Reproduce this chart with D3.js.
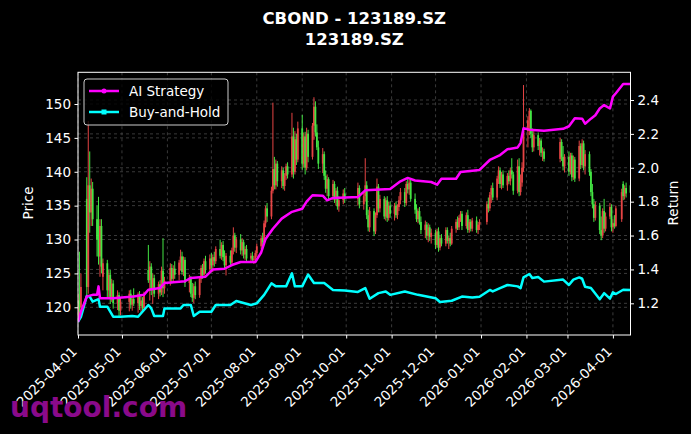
<!DOCTYPE html>
<html lang="en">
<head>
<meta charset="utf-8">
<title>CBOND - 123189.SZ</title>
<script src="https://d3js.org/d3.v7.min.js"></script>
<style>
  body { margin: 0; background: #000; }
  svg { display: block; font-family: "DejaVu Sans", sans-serif; }
  .axis path, .axis line { stroke: #fff; }
  .axis text { fill: #fff; font-size: 13.5px; font-family: "DejaVu Sans", sans-serif; }
  .grid line { stroke: #555; stroke-width: 0.7; stroke-dasharray: 3,3; }
</style>
</head>
<body>
<script>
// exchange holidays (no candles on these weekdays)
const holidays = ["2025-04-04","2025-05-01","2025-05-02","2025-05-05","2025-06-02",
  "2025-10-01","2025-10-02","2025-10-03","2025-10-06","2025-10-07","2025-10-08",
  "2026-01-01","2026-01-02","2026-02-16","2026-02-17","2026-02-18","2026-02-19",
  "2026-02-20","2026-02-23","2026-04-06"];
const firstDay = "2025-04-01";
const lastDay = "2026-04-13";

// daily candles [open, high, low, close]
const ohlc = [
  // 2025-04
  [118.5,122.0,117.8,121.0],[121.0,128.2,119.0,120.0],[120.0,125.0,118.5,123.0],
  [136.0,139.2,121.3,123.0],[123.0,147.5,122.0,138.0],[138.0,143.0,131.0,134.0],
  [134.0,139.0,132.0,137.5],[137.5,138.5,132.0,133.0],[133.0,135.0,127.5,130.0],
  [130.0,136.3,126.3,127.5],[127.5,133.0,124.5,132.0],[132.0,133.0,125.0,126.0],
  [124.5,127.2,122.5,126.5],[126.5,127.0,121.5,122.5],[122.5,125.5,121.5,124.8],
  [124.8,125.5,120.5,121.5],[121.5,124.2,120.8,123.5],[123.5,124.0,119.8,120.6],
  [120.6,122.5,119.6,121.8],[121.8,122.2,118.6,119.5],[119.5,121.5,118.8,120.8],
  // 2025-05
  [120.8,122.5,119.4,122.0],[122.0,122.6,119.8,120.4],[120.4,121.8,119.5,121.2],
  [121.2,122.8,120.2,120.6],[120.6,122.2,119.2,121.9],[121.9,122.4,119.6,120.2],
  [120.2,121.6,119.2,121.0],[121.0,121.5,119.4,119.9],[119.9,122.3,119.5,121.8],
  [125.5,129.2,123.6,124.0],[124.0,126.8,121.0,126.0],[126.0,126.5,121.8,122.5],
  [122.5,125.0,120.5,124.3],[124.3,124.8,121.5,122.0],[122.0,123.8,121.2,123.4],
  [123.4,124.0,121.6,122.2],[122.2,126.0,121.8,125.4],[125.4,130.2,121.5,122.8],
  [122.8,124.5,122.0,123.9],
  // 2025-06
  [123.9,126.5,123.2,125.8],[125.8,126.4,123.5,124.2],[124.2,126.2,123.8,125.7],
  [125.7,126.8,124.2,124.8],[124.8,127.0,124.0,126.6],[126.6,128.5,125.4,127.5],
  [127.5,128.2,124.8,125.2],[125.2,127.5,124.6,127.0],[127.0,127.4,123.0,123.6],
  [123.6,124.8,122.2,124.2],[124.2,124.6,121.5,122.0],[122.0,123.6,120.8,121.4],
  [121.4,123.5,120.6,123.1],[123.1,123.8,121.2,121.8],[121.8,124.6,121.4,124.2],
  [124.2,126.2,123.6,125.8],[125.8,126.4,124.2,124.8],[124.8,127.2,124.4,126.8],
  [126.8,127.6,125.0,125.6],[125.6,127.8,125.2,127.2],
  // 2025-07
  [127.2,128.0,125.6,126.2],[126.2,127.8,125.2,127.4],[127.4,128.2,126.0,126.8],
  [126.8,129.0,126.4,128.6],[128.6,130.0,127.2,127.6],[127.6,129.6,127.0,129.2],
  [129.2,129.8,126.8,127.4],[127.4,128.4,125.8,126.2],[126.2,128.0,124.7,127.6],
  [127.6,128.4,126.0,126.6],[126.6,128.8,126.2,128.4],[128.4,131.8,127.8,130.6],
  [130.6,131.0,128.2,128.8],[128.8,130.4,128.0,130.0],[130.0,130.8,127.8,128.4],
  [128.4,130.2,127.6,129.6],[129.6,130.0,127.2,127.8],[127.8,129.0,127.0,128.6],
  [128.6,129.2,126.8,127.2],[127.2,128.0,126.6,127.6],[127.6,128.2,126.6,127.0],
  [127.0,127.6,126.4,127.2],[127.2,128.4,126.8,128.0],
  // 2025-08
  [128.0,129.4,127.4,129.0],[129.0,130.6,128.6,130.2],[130.2,131.0,129.0,129.6],
  [129.6,132.8,129.2,132.4],[132.4,135.0,131.8,134.6],[134.6,135.4,132.6,133.4],
  [133.4,137.8,133.0,137.2],[137.2,150.2,136.8,140.4],[140.4,142.2,137.4,138.0],
  [138.0,141.8,137.4,141.2],[141.2,141.6,137.8,138.6],[138.6,140.8,137.6,140.2],
  [140.2,140.6,137.4,137.9],[137.9,139.8,137.2,139.4],[139.4,141.2,138.8,140.8],
  [140.8,141.4,139.0,139.6],[139.6,148.7,139.2,145.2],[145.2,146.5,139.0,140.0],
  [140.0,146.0,139.6,144.8],[144.8,145.6,141.0,141.8],[141.8,147.4,141.4,146.4],
  // 2025-09
  [146.4,148.4,140.3,141.2],[141.2,145.8,140.6,145.2],[145.2,145.9,139.6,140.6],
  [140.6,146.5,140.2,145.6],[145.6,146.2,141.4,142.2],[142.2,147.2,141.8,146.8],
  [146.8,151.0,144.7,149.6],[149.6,150.4,145.2,145.8],[145.8,147.0,143.2,143.6],
  [143.6,144.6,140.4,141.2],[141.2,143.5,139.8,142.6],[142.6,143.0,138.8,139.4],
  [139.4,140.2,136.9,137.5],[137.5,139.6,136.4,138.9],[138.9,139.2,135.8,136.4],
  [136.4,138.8,135.8,138.2],[138.2,138.6,135.4,135.9],[135.9,137.6,135.0,137.2],
  [137.2,137.8,134.4,134.9],[134.9,136.4,134.1,135.8],[135.8,137.4,135.2,136.8],
  [136.8,137.6,135.4,136.0],
  // 2025-10
  [136.0,138.4,135.0,137.6],[137.6,138.0,134.6,135.2],[135.2,137.0,134.4,136.4],
  [136.4,142.0,135.6,138.0],[138.0,138.6,133.0,133.6],[133.6,134.4,131.2,131.8],
  [131.8,134.8,131.1,134.2],[134.2,134.6,130.5,131.2],[131.2,134.0,130.8,133.6],
  [133.6,139.0,133.2,137.8],[137.8,138.2,134.0,134.6],[134.6,136.6,134.0,136.0],
  [136.0,136.4,133.0,133.4],[133.4,136.2,132.8,135.8],[135.8,136.4,132.6,133.2],
  [133.2,135.6,132.8,135.0],[135.0,135.6,133.2,133.8],
  // 2025-11
  [133.8,135.4,132.8,135.0],[135.0,135.6,133.2,133.6],[133.6,135.2,133.0,134.8],
  [134.8,136.4,134.2,135.8],[135.8,137.6,135.2,137.0],[137.0,137.6,134.8,135.4],
  [135.4,138.6,135.0,138.2],[138.2,139.0,136.8,137.4],[137.4,138.8,136.6,138.4],
  [138.4,138.9,135.6,136.0],[136.0,136.8,133.8,134.4],[134.4,135.2,132.6,133.0],
  [133.0,134.6,132.4,134.2],[134.2,134.8,132.2,132.6],[132.6,133.4,130.8,131.4],
  [131.4,132.8,130.2,132.2],[132.2,132.6,130.0,130.6],[130.6,132.4,129.6,131.8],
  [131.8,132.2,129.8,130.4],[130.4,131.6,129.4,131.0],
  // 2025-12
  [131.0,131.4,128.6,129.2],[129.2,131.6,128.8,131.2],[131.2,131.8,128.2,128.8],
  [128.8,130.6,128.4,130.2],[130.2,130.8,129.0,129.4],[129.4,131.8,129.0,131.4],
  [131.4,131.8,129.4,129.8],[129.8,130.6,128.6,130.2],[130.2,131.0,129.0,129.4],
  [129.4,132.0,129.2,131.6],[131.6,133.0,131.0,132.6],[132.6,133.4,131.4,131.8],
  [131.8,133.6,131.4,133.2],[133.2,134.2,132.6,133.8],[133.8,134.2,131.4,132.0],
  [132.0,134.0,131.6,133.6],[133.6,134.4,131.0,131.4],[131.4,133.0,131.0,132.6],
  [132.6,133.0,131.2,131.6],[131.6,133.2,131.2,132.8],[132.8,133.4,131.0,131.4],
  [131.4,132.6,130.8,132.2],[132.2,133.0,131.4,132.6],
  // 2026-01
  [132.6,135.6,132.2,135.2],[135.2,136.2,134.0,134.6],[134.6,137.0,134.2,136.6],
  [136.6,138.0,135.4,137.6],[137.6,138.4,135.8,136.2],[136.2,139.4,135.8,139.0],
  [139.0,140.8,138.2,140.2],[140.2,140.6,137.6,138.2],[138.2,140.0,137.4,139.6],
  [139.6,140.2,137.6,138.0],[138.0,139.8,137.2,139.4],[139.4,140.2,138.2,138.6],
  [138.6,140.6,138.0,140.2],[140.2,142.0,139.0,139.6],[139.6,140.0,136.6,137.2],
  [137.2,141.8,136.8,140.8],[140.8,142.0,136.4,137.0],[137.0,139.6,136.5,138.4],
  [138.4,141.4,137.8,140.6],[140.6,152.8,140.0,146.0],
  // 2026-02
  [146.0,148.2,143.6,147.6],[147.6,149.4,145.4,149.0],[149.0,149.2,145.0,145.6],
  [145.6,146.4,142.9,143.6],[143.6,146.0,143.0,145.4],[145.4,145.8,143.2,143.8],
  [143.8,145.0,142.4,144.6],[144.6,144.9,142.2,142.8],[142.8,143.6,141.6,143.0],
  [143.0,143.4,141.5,141.9],[141.9,145.0,141.4,144.4],[144.4,144.8,141.6,142.2],
  [142.2,143.8,140.2,140.8],[140.8,142.6,139.9,142.2],
  // 2026-03
  [142.2,143.0,139.4,140.0],[140.0,142.8,139.6,142.4],[142.4,142.8,138.6,139.2],
  [139.2,142.4,138.8,141.8],[141.8,142.2,138.5,139.0],[139.0,144.6,138.6,143.8],
  [143.8,144.2,140.4,141.0],[141.0,144.8,140.6,144.2],[144.2,144.6,140.2,140.8],
  [140.8,143.2,139.6,142.6],[142.6,143.0,139.4,140.0],[140.0,140.4,136.4,137.0],
  [137.0,138.2,134.6,135.2],[135.2,136.0,132.6,133.2],[133.2,135.6,132.8,135.0],
  [135.0,135.4,130.8,131.4],[131.4,133.4,129.9,130.6],[130.6,134.6,130.2,134.2],
  [134.2,136.0,131.0,131.6],[131.6,134.0,131.2,133.4],[133.4,135.4,133.0,134.8],
  [134.8,135.2,131.2,131.8],
  // 2026-04
  [131.8,133.0,131.0,132.4],[132.4,133.6,131.6,132.0],[132.0,135.0,131.8,134.6],
  [133.0,137.5,132.6,137.0],[138.2,138.6,135.8,136.4],[136.4,138.0,135.9,137.6],
  [137.6,138.4,136.2,136.8],[138.0,138.6,136.4,136.9]
];

// cumulative return of the AI strategy
const aiDates = ["2025-04-01","2025-04-03","2025-04-07","2025-04-11","2025-04-14","2025-04-15","2025-04-16",
  "2025-04-25","2025-05-09","2025-05-16","2025-05-19","2025-05-27","2025-05-30","2025-06-13","2025-06-17",
  "2025-06-27","2025-07-02","2025-07-10","2025-07-15","2025-07-21","2025-07-31","2025-08-04","2025-08-07",
  "2025-08-12","2025-08-18","2025-08-25","2025-09-01","2025-09-04","2025-09-08","2025-09-15","2025-09-18",
  "2025-09-22","2025-10-09","2025-10-14","2025-10-31","2025-11-07","2025-11-12","2025-11-17","2025-11-28",
  "2025-12-02","2025-12-05","2025-12-15","2025-12-18","2025-12-31","2026-01-07","2026-01-14","2026-01-19",
  "2026-01-26","2026-01-28","2026-01-30","2026-02-03","2026-02-13","2026-02-26","2026-03-02","2026-03-06",
  "2026-03-11","2026-03-13","2026-03-17","2026-03-20","2026-03-23","2026-03-26","2026-03-30","2026-04-01",
  "2026-04-03","2026-04-08","2026-04-13"];
const aiReturn = [1.09,1.15,1.24,1.25,1.25,1.30,1.23,
  1.23,1.24,1.25,1.28,1.29,1.32,1.33,1.35,
  1.357,1.40,1.404,1.426,1.444,1.444,1.50,1.58,
  1.64,1.70,1.74,1.758,1.80,1.838,1.835,1.808,
  1.822,1.827,1.867,1.875,1.92,1.94,1.925,1.916,
  1.90,1.935,1.935,1.975,1.987,2.046,2.075,2.109,
  2.12,2.147,2.233,2.225,2.219,2.23,2.245,2.292,
  2.29,2.26,2.29,2.31,2.35,2.37,2.35,2.42,
  2.44,2.494,2.494];

// cumulative return of buy-and-hold
const bhDates = ["2025-04-01","2025-04-03","2025-04-07","2025-04-09","2025-04-11","2025-04-15","2025-04-16",
  "2025-04-21","2025-04-25","2025-04-30","2025-05-08","2025-05-12","2025-05-19","2025-05-21","2025-05-23",
  "2025-05-29","2025-05-30","2025-06-10","2025-06-12","2025-06-17","2025-06-19","2025-06-23","2025-07-01",
  "2025-07-04","2025-07-14","2025-07-18","2025-07-28","2025-08-01","2025-08-06","2025-08-11","2025-08-14",
  "2025-08-21","2025-08-25","2025-08-27","2025-09-01","2025-09-05","2025-09-09","2025-09-16","2025-09-22",
  "2025-09-30","2025-10-09","2025-10-14","2025-10-17","2025-10-23","2025-10-28","2025-10-31","2025-11-10",
  "2025-11-19","2025-12-01","2025-12-04","2025-12-12","2025-12-19","2025-12-26","2025-12-31","2026-01-07",
  "2026-01-09","2026-01-14","2026-01-19","2026-01-26","2026-01-28","2026-01-30","2026-02-03","2026-02-05",
  "2026-02-09","2026-02-13","2026-02-26","2026-03-02","2026-03-05","2026-03-09","2026-03-11","2026-03-13",
  "2026-03-17","2026-03-23","2026-03-26","2026-03-30","2026-04-01","2026-04-03","2026-04-08","2026-04-13"];
const bhReturn = [1.09,1.12,1.243,1.24,1.21,1.225,1.18,
  1.18,1.121,1.12,1.125,1.121,1.19,1.17,1.125,
  1.125,1.17,1.17,1.19,1.19,1.125,1.15,1.15,
  1.19,1.19,1.214,1.19,1.20,1.25,1.318,1.30,
  1.30,1.377,1.30,1.30,1.37,1.32,1.32,1.279,
  1.275,1.267,1.29,1.227,1.26,1.27,1.25,1.27,
  1.25,1.23,1.208,1.215,1.24,1.235,1.239,1.279,
  1.27,1.29,1.308,1.30,1.29,1.353,1.373,1.35,
  1.355,1.328,1.34,1.308,1.34,1.353,1.345,1.298,
  1.29,1.224,1.26,1.228,1.265,1.255,1.28,1.278];

const monthTicks = ["2025-04-01","2025-05-01","2025-06-01","2025-07-01","2025-08-01","2025-09-01",
  "2025-10-01","2025-11-01","2025-12-01","2026-01-01","2026-02-01","2026-03-01","2026-04-01"];
const priceTicks = [120, 125, 130, 135, 140, 145, 150];
const returnTicks = [1.2, 1.4, 1.6, 1.8, 2.0, 2.2, 2.4];

const W = 691, H = 434;
const mLeft = 78, mRight = 630.5, mTop = 72.3, mBottom = 335;
const parse = d3.utcParse("%Y-%m-%d");

// trading days = weekdays minus holidays
const hol = new Set(holidays);
const tradeDays = d3.utcDays(parse(firstDay), d3.utcDay.offset(parse(lastDay), 1))
  .filter(d => d.getUTCDay() !== 0 && d.getUTCDay() !== 6 && !hol.has(d3.utcFormat("%Y-%m-%d")(d)));
console.log("days", tradeDays.length, "candles", ohlc.length);

const candles = ohlc.slice(0, tradeDays.length).map((r, i) => ({
  date: tradeDays[i], o: r[0], h: r[1], l: r[2], c: r[3]
}));
const ai = aiDates.map((d, i) => ({ date: parse(d), v: aiReturn[i] }));
const bh = bhDates.map((d, i) => ({ date: parse(d), v: bhReturn[i] }));

const x = d3.scaleUtc().domain([parse(firstDay), parse(lastDay)]).range([mLeft, mRight]);
const yP = d3.scaleLinear().domain([115.91, 154.68]).range([mBottom, mTop]);
const yR = d3.scaleLinear().domain([1.013, 2.5635]).range([mBottom, mTop]);

const svg = d3.select("body").append("svg").attr("width", W).attr("height", H);
svg.append("rect").attr("width", W).attr("height", H).attr("fill", "#000");

svg.append("clipPath").attr("id", "plot")
  .append("rect").attr("x", mLeft).attr("y", mTop).attr("width", mRight - mLeft).attr("height", mBottom - mTop);

// grid
const grid = svg.append("g").attr("class", "grid");
grid.selectAll(".gx").data(monthTicks).join("line").attr("class", "gx")
  .attr("x1", d => x(parse(d))).attr("x2", d => x(parse(d)))
  .attr("y1", mTop).attr("y2", mBottom);
grid.selectAll(".gp").data(priceTicks).join("line").attr("class", "gp")
  .attr("x1", mLeft).attr("x2", mRight)
  .attr("y1", d => yP(d)).attr("y2", d => yP(d));
grid.selectAll(".gr").data(returnTicks).join("line").attr("class", "gr")
  .attr("x1", mLeft).attr("x2", mRight)
  .attr("y1", d => yR(d)).attr("y2", d => yR(d));

// candles (red = up, green = down)
const up = "#ff4c4c", down = "#4cff4c";
const cg = svg.append("g").attr("clip-path", "url(#plot)").attr("opacity", 0.9);
cg.selectAll("line.wick").data(candles).join("line").attr("class", "wick")
  .attr("x1", d => x(d.date)).attr("x2", d => x(d.date))
  .attr("y1", d => yP(d.h)).attr("y2", d => yP(d.l))
  .attr("stroke", d => d.c >= d.o ? up : down).attr("stroke-width", 1);
cg.selectAll("rect.body").data(candles).join("rect").attr("class", "body")
  .attr("x", d => x(d.date) - 0.9).attr("width", 1.8)
  .attr("y", d => yP(Math.max(d.o, d.c)))
  .attr("height", d => Math.max(0.8, Math.abs(yP(d.o) - yP(d.c))))
  .attr("fill", d => d.c >= d.o ? up : down);

// return lines
const line = d3.line().x(d => x(d.date)).y(d => yR(d.v));
const lg = svg.append("g").attr("clip-path", "url(#plot)");
lg.append("path").datum(bh).attr("d", line)
  .attr("fill", "none").attr("stroke", "#00ffff").attr("stroke-width", 2.5).attr("stroke-linejoin", "round");
lg.append("path").datum(ai).attr("d", line)
  .attr("fill", "none").attr("stroke", "#ff00ff").attr("stroke-width", 2.5).attr("stroke-linejoin", "round");

// axes
const xAxis = svg.append("g").attr("class", "axis")
  .attr("transform", `translate(0,${mBottom})`)
  .call(d3.axisBottom(x).tickValues(monthTicks.map(parse))
    .tickFormat(d3.utcFormat("%Y-%m-%d")).tickSize(3.5).tickSizeOuter(0));
xAxis.select(".domain").remove();
xAxis.selectAll("text")
  .attr("text-anchor", "end")
  .attr("dy", "0.35em")
  .attr("transform", "translate(-4,14) rotate(-45)")
  .attr("x", 0).attr("y", 0);

const yAxisL = svg.append("g").attr("class", "axis")
  .attr("transform", `translate(${mLeft},0)`)
  .call(d3.axisLeft(yP).tickValues(priceTicks).tickSize(3.5).tickPadding(3.5).tickSizeOuter(0));
yAxisL.select(".domain").remove();

const yAxisR = svg.append("g").attr("class", "axis")
  .attr("transform", `translate(${mRight},0)`)
  .call(d3.axisRight(yR).tickValues(returnTicks).tickFormat(d3.format(".1f"))
    .tickSize(3.5).tickPadding(3.5).tickSizeOuter(0));
yAxisR.select(".domain").remove();

// frame
svg.append("rect").attr("x", mLeft).attr("y", mTop)
  .attr("width", mRight - mLeft).attr("height", mBottom - mTop)
  .attr("fill", "none").attr("stroke", "#fff").attr("stroke-width", 1);

// axis labels
svg.append("text").attr("transform", "translate(33,203) rotate(-90)")
  .attr("text-anchor", "middle").attr("fill", "#fff").attr("font-size", 13.5).text("Price");
svg.append("text").attr("transform", "translate(678,203) rotate(-90)")
  .attr("text-anchor", "middle").attr("fill", "#fff").attr("font-size", 13.5).text("Return");

// title
svg.append("text").attr("x", (mLeft + mRight) / 2).attr("y", 24)
  .attr("text-anchor", "middle").attr("fill", "#fff").attr("font-size", 16.5).attr("font-weight", "bold")
  .text("CBOND - 123189.SZ");
svg.append("text").attr("x", (mLeft + mRight) / 2).attr("y", 45)
  .attr("text-anchor", "middle").attr("fill", "#fff").attr("font-size", 16.5).attr("font-weight", "bold")
  .text("123189.SZ");

// legend
const legend = svg.append("g").attr("transform", "translate(84,79)");
legend.append("rect").attr("width", 144).attr("height", 46).attr("rx", 3)
  .attr("fill", "#000").attr("fill-opacity", 0.8).attr("stroke", "#ccc").attr("stroke-width", 1);
const items = [{ name: "AI Strategy", color: "#ff00ff", mark: "circle" },
               { name: "Buy-and-Hold", color: "#00ffff", mark: "square" }];
items.forEach((it, i) => {
  const g = legend.append("g").attr("transform", `translate(0,${12 + i * 21})`);
  g.append("line").attr("x1", 5).attr("x2", 35).attr("y1", 0).attr("y2", 0)
    .attr("stroke", it.color).attr("stroke-width", 2.5);
  if (it.mark === "circle") g.append("circle").attr("cx", 20).attr("cy", 0).attr("r", 2.5).attr("fill", it.color);
  else g.append("rect").attr("x", 17.5).attr("y", -2.5).attr("width", 5).attr("height", 5).attr("fill", it.color);
  g.append("text").attr("x", 45).attr("y", 0).attr("dy", "0.35em")
    .attr("fill", "#fff").attr("font-size", 13.5).text(it.name);
});

// watermark
svg.append("text").attr("x", 10).attr("y", 417)
  .attr("fill", "#8a0a8a").attr("font-size", 28).attr("font-weight", "bold")
  .text("uqtool.com");
</script>
</body>
</html>
